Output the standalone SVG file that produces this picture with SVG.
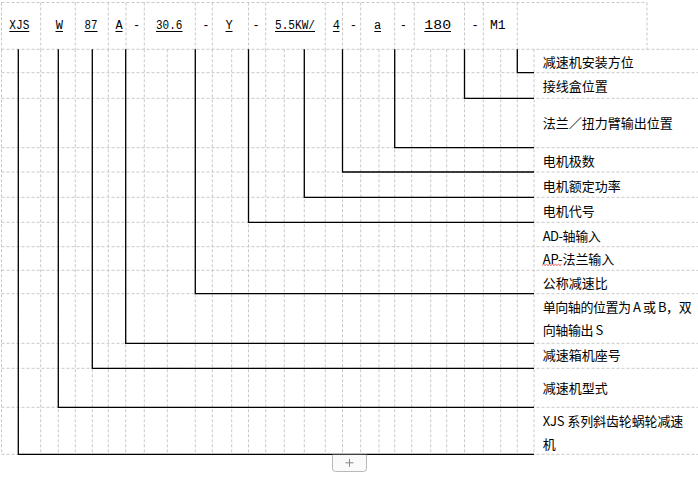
<svg xmlns="http://www.w3.org/2000/svg" width="698" height="479" viewBox="0 0 698 479">
<style>
.g{stroke:#c8c8c8;stroke-width:1;stroke-dasharray:3 2;fill:none}
.c{stroke:#000;stroke-width:1.3;fill:none}
.h{font-family:"Liberation Mono","DejaVu Sans Mono",monospace;font-size:12px;fill:#000;text-anchor:middle}
.u{stroke:#000;stroke-width:1}
.l{font-family:"Noto Sans CJK SC","Noto Sans CJK JP",sans-serif;font-size:13px;fill:#000}
</style>
<rect width="698" height="479" fill="#fff"/>
<g id="grid">
<path class="g" d="M1.5 2.5H647M1.5 49.3H698M1.5 2.5V49.3M40.7 2.5V49.3M75.3 2.5V49.3M108.3 2.5V49.3M126 2.5V49.3M144.3 2.5V49.3M195.3 2.5V49.3M212.3 2.5V49.3M248.5 2.5V49.3M265.7 2.5V49.3M325.3 2.5V49.3M342.5 2.5V49.3M360.7 2.5V49.3M394.7 2.5V49.3M414.3 2.5V49.3M464.5 2.5V49.3M483.3 2.5V49.3M517.3 2.5V49.3M647 2.5V49.3"/>
<path class="g" d="M1.5 72.7H698M1.5 98.3H698M1.5 147.7H698M1.5 172H698M1.5 197.3H698M1.5 222.3H698M1.5 246.7H698M1.5 270.3H698M1.5 293.7H698M1.5 343.3H698M1.5 368.3H698M1.5 407.3H698M1.5 454.3H698"/>
<path class="g" d="M1.5 49.3V454.3M18.3 49.3V454.3M40.7 49.3V454.3M58.3 49.3V454.3M75.3 49.3V454.3M92.3 49.3V454.3M108.3 49.3V454.3M125.7 49.3V454.3M144.3 49.3V454.3M167.3 49.3V454.3M195.3 49.3V454.3M212.3 49.3V454.3M231.7 49.3V454.3M248.5 49.3V454.3M265.7 49.3V454.3M284.3 49.3V454.3M304.3 49.3V454.3M325.3 49.3V454.3M342.5 49.3V454.3M360.7 49.3V454.3M379 49.3V454.3M394.7 49.3V454.3M411.7 49.3V454.3M430.7 49.3V454.3M446.7 49.3V454.3M464.5 49.3V454.3M483.3 49.3V454.3M500.7 49.3V454.3M517.3 49.3V454.3M534 49.3V454.3"/>
</g>
<g id="header">
<g id="h-xjs"><text class="h" x="19.3" y="29.3" textLength="20" lengthAdjust="spacingAndGlyphs">XJS</text><path class="u" d="M9.3 31.5H29.3"/></g>
<g id="h-w"><text class="h" x="59.3" y="29.3">W</text><path class="u" d="M55.5 31.5H63"/></g>
<g id="h-87"><text class="h" x="91" y="29.3" textLength="13" lengthAdjust="spacingAndGlyphs">87</text><path class="u" d="M84.5 31.5H97.5"/></g>
<g id="h-a"><text class="h" x="119" y="29.3">A</text><path class="u" d="M115.5 31.5H122.5"/></g>
<g id="h-d1"><text class="h" x="136.7" y="29.3">-</text></g>
<g id="h-ratio"><text class="h" x="169.2" y="29.3" textLength="26.3" lengthAdjust="spacingAndGlyphs">30.6</text><path class="u" d="M156 31.5H182.5"/></g>
<g id="h-d2"><text class="h" x="205.8" y="29.3">-</text></g>
<g id="h-y"><text class="h" x="229" y="29.3">Y</text><path class="u" d="M225.5 31.5H232.5"/></g>
<g id="h-d3"><text class="h" x="256" y="29.3">-</text></g>
<g id="h-kw"><text class="h" x="295" y="29.3" textLength="40" lengthAdjust="spacingAndGlyphs">5.5KW/</text><path class="u" d="M275 31.5H315"/></g>
<g id="h-4"><text class="h" x="336.3" y="29.3">4</text><path class="u" d="M333 31.5H339.5"/></g>
<g id="h-d4"><text class="h" x="353.3" y="29.3">-</text></g>
<g id="h-la"><text class="h" x="377.7" y="29.3">a</text><path class="u" d="M374.3 31.5H381"/></g>
<g id="h-d5"><text class="h" x="403.3" y="29.3">-</text></g>
<g id="h-180"><text class="h" x="437.7" y="29.3" textLength="26.7" lengthAdjust="spacingAndGlyphs">180</text><path class="u" d="M424.3 31.5H451"/></g>
<g id="h-d6"><text class="h" x="475" y="29.3">-</text></g>
<g id="h-m1"><text class="h" x="497.8" y="29.3" textLength="15.7" lengthAdjust="spacingAndGlyphs">M1</text></g>
</g>
<g id="connectors">
<path class="c" d="M517.3 49.3V72.7H534"/>
<path class="c" d="M464.5 49.3V98.3H534"/>
<path class="c" d="M394.7 49.3V147.7H534"/>
<path class="c" d="M342.5 49.3V172H534"/>
<path class="c" d="M304.3 49.3V197.3H534"/>
<path class="c" d="M248.5 49.3V222.3H534"/>
<path class="c" d="M195.3 49.3V293.7H534"/>
<path class="c" d="M125.7 49.3V343.3H534"/>
<path class="c" d="M92.3 49.3V368.3H534"/>
<path class="c" d="M58.3 49.3V407.3H534"/>
<path class="c" d="M18.3 49.3V454.3H534"/>
</g>
<g id="labels">
<g id="l-mount"><text class="l" x="542.7" y="66.5">减速机安装方位</text></g>
<g id="l-box"><text class="l" x="542.7" y="91">接线盒位置</text></g>
<g id="l-flange"><text class="l" x="542.7" y="128">法兰／扭力臂输出位置</text></g>
<g id="l-poles"><text class="l" x="542.7" y="165.5">电机极数</text></g>
<g id="l-power"><text class="l" x="542.7" y="190.5">电机额定功率</text></g>
<g id="l-motor"><text class="l" x="542.7" y="215.8">电机代号</text></g>
<g id="l-ad"><text class="l" x="542.7" y="240.5" textLength="58" lengthAdjust="spacing">AD-轴输入</text></g>
<g id="l-ap"><text class="l" x="542.7" y="264" textLength="71.5" lengthAdjust="spacing">AP-法兰输入</text><path d="M542 265.5l1.5 -1.2l1.5 1.2l1.5 -1.2l1.5 1.2l1.5 -1.2l1.5 1.2l1.5 -1.2l1.5 1.2l1.5 -1.2l1.5 1.2l1.5 -1.2l1.5 1.2l1.5 -1.2" stroke="#e02020" stroke-width="0.8" fill="none"/></g>
<g id="l-ratio"><text class="l" x="542.7" y="288">公称减速比</text></g>
<g id="l-shaft"><text class="l" x="542.7" y="311.5" textLength="149" lengthAdjust="spacing">单向轴的位置为 A 或 B，双</text><text class="l" x="542.7" y="335" textLength="60.6" lengthAdjust="spacing">向轴输出 S</text></g>
<g id="l-frame"><text class="l" x="542.7" y="360">减速箱机座号</text></g>
<g id="l-type"><text class="l" x="542.7" y="392.5">减速机型式</text></g>
<g id="l-series"><text class="l" x="542.7" y="425.5" textLength="140.6" lengthAdjust="spacing">XJS 系列斜齿轮蜗轮减速</text><text class="l" x="542.7" y="449">机</text></g>
</g>
<g id="add-button">
<path d="M332.5 454.8V468.5a3 3 0 0 0 3 3H363.5a3 3 0 0 0 3 -3V454.8" fill="#fafafa" stroke="#b8b8b8" stroke-width="1"/>
<path d="M345.5 462.8H353.5M349.5 458.8V466.8" stroke="#888" stroke-width="1"/>
</g>
</svg>
